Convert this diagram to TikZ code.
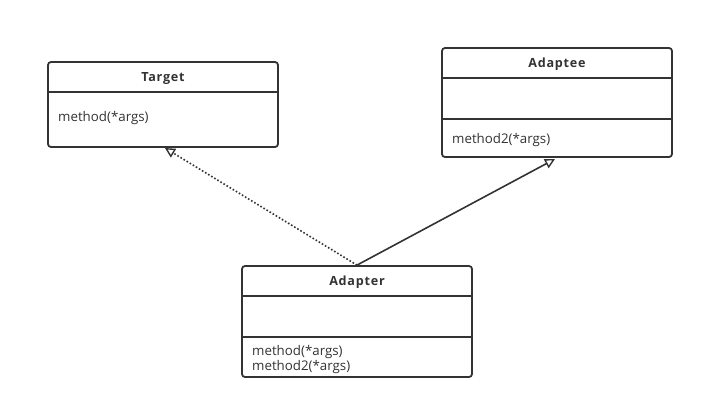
\documentclass[tikz,border=0pt]{standalone}
\usepackage{fontspec}
\setmainfont{Open Sans}
\usetikzlibrary{arrows.meta}
\definecolor{ln}{HTML}{333333}
\tikzset{
  umlbox/.style={draw=ln, line width=1.8pt, rounded corners=3pt, inner sep=0pt, fill=white},
  divider/.style={draw=ln, line width=1.8pt},
  title/.style={font=\fontsize{12.6}{14}\selectfont\bfseries\addfontfeatures{LetterSpace=6}, text=ln, inner sep=0pt},
  member/.style={font=\fontsize{13.3}{15}\selectfont, text=ln, anchor=west, inner sep=0pt, align=left},
  realize/.style={draw=ln, line width=1.6pt, dotted, -{Triangle[open, length=10pt, width=10pt, line width=1.4pt]}},
  inherit/.style={draw=ln, line width=1.6pt, -{Triangle[open, length=10pt, width=10pt, line width=1.4pt]}}
}
\begin{document}
\begin{tikzpicture}[x=1pt, y=-1pt]
\useasboundingbox (0,0) rectangle (704,410);
% Target
\node[umlbox, minimum width=230pt, minimum height=85pt] (target) at (163,104.5) {};
\draw[divider] (target.west |- 0,92) -- (target.east |- 0,92);
\node[title] (targett) at (163,78.5) {Target};
\node[member] (targetm) at (58,118.5) {method(*args)};
% Adaptee
\node[umlbox, minimum width=230pt, minimum height=109pt] (adaptee) at (557,102.5) {};
\draw[divider] (adaptee.west |- 0,78) -- (adaptee.east |- 0,78);
\draw[divider] (adaptee.west |- 0,119) -- (adaptee.east |- 0,119);
\node[title] (adapteet) at (557,64.5) {Adaptee};
\node[member] (adapteem) at (452,140.5) {method2(*args)};
% Adapter
\node[umlbox, minimum width=230pt, minimum height=111pt] (adapter) at (357,321.5) {};
\draw[divider] (adapter.west |- 0,296) -- (adapter.east |- 0,296);
\draw[divider] (adapter.west |- 0,337) -- (adapter.east |- 0,337);
\node[title] (adaptert) at (357,282.5) {Adapter};
\node[member] (adapterm) at (252,360) {method(*args)\\method2(*args)};
% connectors
\coordinate (ttip) at (165,148);
\coordinate (atip) at (555,159);
\draw[realize] (adapter.north) -- (ttip);
\draw[inherit] (adapter.north) -- (atip);
\end{tikzpicture}
\end{document}
